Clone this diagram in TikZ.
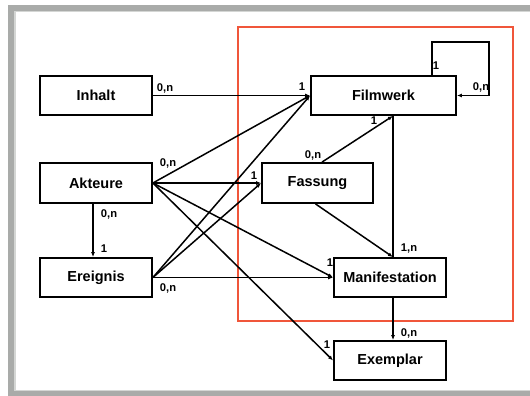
\documentclass[tikz,border=0pt]{standalone}
\usepackage{fontspec}
\setmainfont{Liberation Sans}
\usetikzlibrary{arrows.meta}
\definecolor{framegray}{HTML}{A9ABA9}
\definecolor{framelight}{HTML}{D4D6D4}
\definecolor{redframe}{HTML}{F0563A}
\begin{document}
\begin{tikzpicture}[x=1pt,y=-1pt,
  entity/.style={draw,line width=1.8pt,minimum height=39pt,inner sep=0pt,font=\fontsize{14.5}{16}\selectfont\bfseries},
  conn/.style={line width=1.5pt,-{Latex[length=5pt,width=4pt]}},
  plain/.style={line width=1.5pt},
  card/.style={font=\fontsize{11.2}{12}\selectfont\bfseries,inner sep=0pt}]
\useasboundingbox (0,0) rectangle (530,396);
% frame
\fill[framegray] (8,5) rectangle (530,11);
\fill[framegray] (8,5) rectangle (14,396);
\fill[framegray] (8,391) rectangle (530,396);
\fill[framelight] (14,11) rectangle (530,12.5);
\fill[framelight] (14,11) rectangle (15.5,391);
\fill[framelight] (14,389.5) rectangle (530,391);
% red box
\draw[redframe,line width=1.4pt] (238,27) rectangle (513,321);
% entities
\node[entity,minimum width=112pt] (inhalt) at (96,95.5) {Inhalt};
\node[entity,minimum width=145pt] (film) at (383.5,95.5) {Filmwerk};
\node[entity,minimum width=112pt,minimum height=40pt] (akt) at (96,183) {Akteure};
\node[entity,minimum width=111pt,minimum height=40pt] (fass) at (317.5,183) {Fassung};
\node[entity,minimum width=112pt] (ereig) at (96,277.5) {Ereignis};
\node[entity,minimum width=112pt] (mani) at (390,277.5) {Manifestation};
\node[entity,minimum width=112pt] (exem) at (390,360.5) {Exemplar};
% loop corners
\coordinate (l1) at (432,42);
\coordinate (l2) at (489,42);
\coordinate (l3) at (489,95.5);
% connectors
\draw[conn] (inhalt.east) -- (film.west);
\draw[conn] (akt.east) -- (film.west);
\draw[conn] (ereig.east) -- (film.west);
\draw[conn] (akt.east) -- (fass.west);
\draw[conn] (ereig.east) -- (fass.west);
\draw[conn] (akt.east) -- (mani.west);
\draw[conn] (ereig.east) -- (mani.west);
\draw[conn] (akt.east) -- (exem.west);
\draw[conn] ([xshift=-3pt]akt.south) -- ([xshift=-3pt]ereig.north);
\draw[conn] ([xshift=4.5pt]fass.north) -- ([xshift=9.5pt]film.south);
\draw[conn] ([xshift=-2pt]fass.south) -- ([xshift=3pt]mani.north);
\draw[plain] ([xshift=9.5pt]film.south) -- ([xshift=3pt]mani.north);
\draw[conn] ([xshift=3pt]mani.south) -- ([xshift=3pt]exem.north);
\draw[plain] ([xshift=48.5pt]film.north) |- (l1) -- (l2) -- (l3);
\draw[conn] (l3) -- (film.east);
% cardinalities
\node[card] (c1) at (165,88) {0,n};
\node[card] (c2) at (302,87) {1};
\node[card] (c3) at (436,66) {1};
\node[card] (c4) at (481,87) {0,n};
\node[card] (c5) at (374,121) {1};
\node[card] (c6) at (313,155) {0,n};
\node[card] (c7) at (168,163) {0,n};
\node[card] (c8) at (254,176) {1};
\node[card] (c9) at (109,214) {0,n};
\node[card] (c10) at (104,249) {1};
\node[card] (c11) at (330,263) {1};
\node[card] (c12) at (409,249) {1,n};
\node[card] (c13) at (168,288) {0,n};
\node[card] (c14) at (409,333) {0,n};
\node[card] (c15) at (327,345) {1};
\end{tikzpicture}
\end{document}
